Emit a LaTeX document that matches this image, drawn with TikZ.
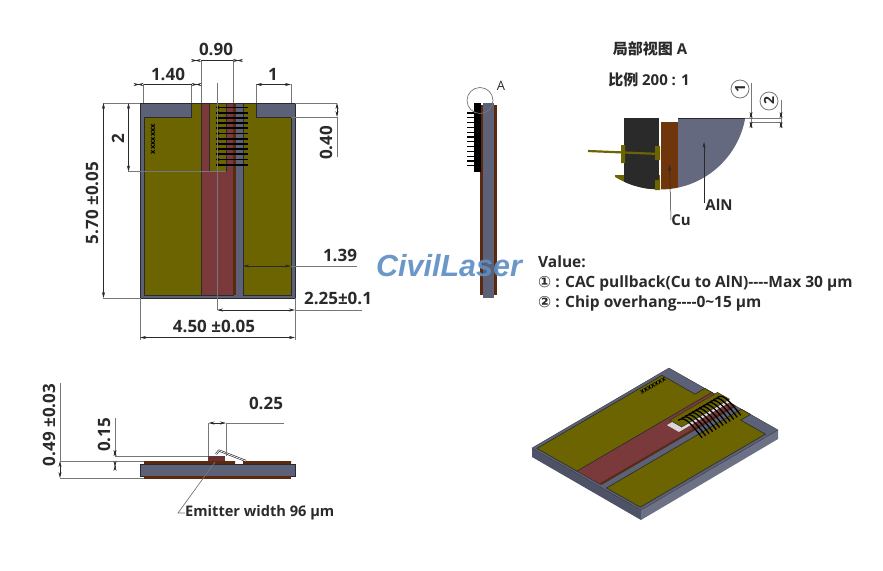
\documentclass[tikz,border=0pt]{standalone}
\usepackage{fontspec}
\setmainfont{Open Sans}
\newfontfamily\cjkfont{Noto Sans CJK SC}
\newfontfamily\symfont{DejaVu Sans}
\newfontfamily\markfont{Liberation Sans}
\usetikzlibrary{arrows.meta}
\definecolor{alngrey}{HTML}{5C6178}
\definecolor{padolive}{HTML}{6B6400}
\definecolor{cured}{HTML}{7A3A3C}
\definecolor{cubrown}{HTML}{5A2A10}
\definecolor{inkdark}{HTML}{2A2A2A}
\definecolor{extgrey}{HTML}{777777}
\newcommand{\isobox}[4]{(#1,#2) -- (#3,#2) -- (#3,#4) -- (#1,#4) -- cycle}
\tikzset{
  dimline/.style={draw=inkdark,line width=.5pt},
  extline/.style={draw=extgrey,line width=.6pt},
  tipboth/.style={{Stealth[length=6pt,width=3pt]}-{Stealth[length=6pt,width=3pt]}},
  tipin/.style={{Stealth[length=6pt,width=3pt,reversed]}-{Stealth[length=6pt,width=3pt,reversed]}},
  dimtext/.style={font=\fontsize{17}{17}\selectfont\bfseries,text=inkdark,inner sep=0pt},
  smalltext/.style={font=\fontsize{15}{15}\selectfont\bfseries,text=inkdark,inner sep=0pt},
  valtext/.style={font=\fontsize{15.5}{15}\selectfont\bfseries,text=inkdark,inner sep=0pt,anchor=west},
  wire/.style={draw=black,line width=1.7pt},
  callout/.style={circle,draw=extgrey,line width=.8pt,rotate=90,inner sep=0pt,minimum size=18pt,font=\fontsize{14}{14}\selectfont\bfseries,text=inkdark},
}
\begin{document}
\begin{tikzpicture}[x=1pt,y=-1pt]
\useasboundingbox (0,0) rectangle (883,570);
% front view
\fill[alngrey] (140,103) rectangle (295,298);
\draw[inkdark,line width=.6pt] (140,103) rectangle (295,298);
\fill[padolive,draw=inkdark,line width=.4pt] (144,117) -- (191,117) -- (191,103) -- (201,103) -- (201,295) -- (144,295) -- cycle;
\fill[padolive,draw=inkdark,line width=.4pt] (243,103) -- (256,103) -- (256,117) -- (291,117) -- (291,295) -- (243,295) -- cycle;
\fill[cured,draw=inkdark,line width=.4pt] (201,103) rectangle (233,295);
\fill[cubrown] (233,103) rectangle (235.5,295);
\fill[padolive,draw=inkdark,line width=.5pt] (209,103) rectangle (226,171.5);
\foreach \n in {0,...,11}{
  \draw[wire] (216,107.5+5.2*\n) -- (248,107.5+5.2*\n);
  \fill[black] (218,107.5+5.2*\n) circle (1.8);
}
\node[rotate=90,font=\fontsize{7.5}{7}\selectfont\bfseries,inner sep=0pt] (markfront) at (153,139) {xxxxxxx};
% dimensions of the front view
\draw[extline] (103,103) -- (140,103) (295,103) -- (337,103) (291,117) -- (337,117);
\draw[extline] (201,60) -- (201,103) (233,60) -- (233,103);
\draw[extline] (143.5,84) -- (143.5,103) (191.5,84) -- (191.5,103) (256,84) -- (256,103) (291,84) -- (291,103);
\draw[extline] (217,83) -- (217,310);
\draw[extline] (128,171.5) -- (226,171.5) (103,298) -- (140,298);
\draw[extline] (140,298) -- (140,340) (295,298) -- (295,340);
\draw[dimline,tipin] (191,60.5) -- (201,60.5);
\draw[dimline,tipin] (233,60.5) -- (243,60.5);
\draw[dimline] (201,60.5) -- (233,60.5);
\node[dimtext] (w090) at (216,49) {0.90};
\draw[dimline,tipin] (133.5,84.5) -- (143.5,84.5);
\draw[dimline,tipin] (191.5,84.5) -- (201.5,84.5);
\draw[dimline] (143.5,84.5) -- (191.5,84.5);
\node[dimtext] (w140) at (168,74) {1.40};
\draw[dimline,tipboth] (256,84.5) -- (291,84.5);
\node[dimtext] (w1) at (273,74) {1};
\draw[dimline,tipboth] (128.5,103) -- (128.5,171.5);
\node[dimtext,rotate=90] (h2) at (118,139) {2};
\draw[dimline,tipboth] (103.5,103) -- (103.5,298);
\node[dimtext,rotate=90] (h570) at (92,203) {5.70 ±0.05};
\draw[extline] (337,117) -- (337,157);
\draw[dimline,tipboth] (337,103) -- (337,117);
\node[dimtext,rotate=90] (h040) at (326,143) {0.40};
\draw[extline] (291,266) -- (357,266);
\draw[dimline,tipboth] (243,266) -- (291,266);
\node[dimtext] (w139) at (340,255) {1.39};
\draw[extline] (295,310) -- (362,310);
\draw[dimline,tipboth] (217,310) -- (295,310);
\node[dimtext] (w225) at (338,298) {2.25±0.1};
\draw[dimline,tipboth] (140,337.5) -- (295,337.5);
\node[dimtext] (w450) at (214,326) {4.50 ±0.05};
% side view
\fill[cubrown] (480,105) rectangle (497,295);
\fill[alngrey] (483,103) rectangle (494,298);
\fill[black] (474,103) rectangle (481,172);
\foreach \n in {0,...,11}{
  \draw[black,line width=1.3pt] (467,113+4.8*\n) -- (475,113+4.8*\n);
}
\draw[extgrey,line width=.7pt] (480,100.5) circle (13);
\node[font=\fontsize{13}{13}\selectfont,text=inkdark,inner sep=0pt] (viewa) at (501,86) {A};
% detail A
\node[smalltext] (detailtitle) at (650,49) {{\cjkfont\bfseries 局部视图} A};
\node[smalltext] (detailscale) at (649,80) {{\cjkfont\bfseries 比例} 200 : 1};
\begin{scope}
\clip (660,103) circle (86.5);
\fill[padolive] (615,175) rectangle (660,195);
\fill[inkdark] (624,118) rectangle (659,189);
\fill[cubrown!80!orange!90!black] (660.5,122) rectangle (678,195);
\fill[alngrey!95!white] (678,118) rectangle (750,195);
\draw[inkdark,line width=.8pt] (678,118.3) -- (750,118.3);
\end{scope}
\draw[padolive,line width=2.2pt] (588,151) -- (660,154);
\fill[padolive] (621,145) rectangle (625,163) (655,146) rectangle (660,160) (655,180) rectangle (660,190);
\draw[extline] (745,118) -- (781,118) (750,122) -- (781,122);
\draw[extline] (751,83) -- (751,128) (781,100) -- (781,128);
\draw[dimline,tipin] (751,112) -- (751,118);
\draw[dimline,tipin] (751,122) -- (751,128);
\draw[dimline,tipin] (781,112) -- (781,118);
\draw[dimline,tipin] (781,122) -- (781,128);
\node[callout] (callone) at (740,89) {1};
\node[callout] (calltwo) at (769,101) {2};
\node[smalltext] (aln) at (719,205) {AlN};
\node[smalltext] (cu) at (681,220) {Cu};
\coordinate (alntip) at (704,142);
\coordinate (cutip) at (669.5,165);
\draw[dimline,-{Stealth[length=6pt,width=3pt]}] (704,203) -- (alntip);
\draw[dimline,-{Stealth[length=6pt,width=3pt]}] (671,220) -- (cutip);
% value table
\node[valtext] (valhead) at (538,262) {Value:};
\node[valtext] (valone) at (538,283) {{\symfont ①} : CAC pullback(Cu to AlN)-{}-{}-{}-Max 30 µm};
\node[valtext] (valtwo) at (538,303) {{\symfont ②} : Chip overhang-{}-{}-{}-0\textasciitilde15 µm};
% end view
\fill[cubrown] (144,461) rectangle (235,464) (243,461) rectangle (291,464);
\fill[alngrey] (140,464) rectangle (295,476);
\draw[inkdark,line width=.3pt] (140,464) rectangle (295,476);
\fill[cubrown] (144,476) rectangle (291,478.5);
\fill[cured!85!black] (208,456) rectangle (225,461);
\draw[inkdark,line width=2pt,line join=round] (216,454) -- (219,450.5) -- (246,461);
\draw[white,line width=.7pt,line join=round] (216,454) -- (219,450.5) -- (246,461);
\draw[extline] (208.5,423) -- (208.5,456) (226,423) -- (226,456);
\draw[extline] (226,423) -- (284,423);
\draw[extline] (115,456) -- (208,456) (115,461) -- (144,461) (115,418) -- (115,456);
\draw[extline] (60,461) -- (144,461) (60,478) -- (144,478) (60,383) -- (60,461);
\draw[dimline,tipboth] (208.5,423) -- (226,423);
\node[dimtext] (w025) at (266,403) {0.25};
\draw[dimline,tipin] (115,450) -- (115,456);
\draw[dimline,tipin] (115,461) -- (115,471);
\node[dimtext,rotate=90] (h015) at (104,435) {0.15};
\draw[dimline,tipboth] (60,461) -- (60,478);
\node[dimtext,rotate=90] (h049) at (49,425) {0.49 ±0.03};
\node[smalltext,anchor=west,font=\fontsize{14.6}{14}\selectfont\bfseries] (emitter) at (185,513) {Emitter width 96 µm};
\coordinate (emittertip) at (215,462);
\draw[extline,line width=.7pt] (emittertip) -- (178,513) -- (emitter.west);
% perspective view
\fill[alngrey!85!black] (532,448) -- (641,510) -- (641,520) -- (532,457) -- cycle;
\fill[alngrey!90!white] (641,510) -- (778,430) -- (778,439) -- (641,520) -- cycle;
\begin{scope}[shift={(669,368)},x={(.7032pt,-.4pt)},y={(-.7026pt,-.4103pt)}]
\fill[alngrey,draw=inkdark,line width=.3pt] \isobox{0}{0}{155}{195};
\fill[padolive,draw=inkdark,line width=.6pt] (4,14) -- (51,14) -- (51,0) -- (61,0) -- (61,192) -- (4,192) -- cycle;
\fill[padolive,draw=inkdark,line width=.6pt] (103,0) -- (116,0) -- (116,14) -- (151,14) -- (151,192) -- (103,192) -- cycle;
\fill[cured,draw=inkdark,line width=.4pt] \isobox{61}{0}{93}{192};
\fill[cubrown] \isobox{93}{0}{95.5}{192};
\fill[white!85!black] \isobox{69}{0}{86}{72};
\begin{scope}[shift={(-4,-4)}]
\fill[padolive,draw=inkdark,line width=.4pt] \isobox{69}{0}{86}{68};
\foreach \n in {0,...,11}{
  \draw[black,line width=1.3pt] (75,7+5*\n) .. controls (74,-1+5*\n) and (81,-1+5*\n) .. (114,12+5*\n);
}
\end{scope}
\end{scope}
\node[rotate=29,font=\fontsize{7}{7}\selectfont\bfseries,inner sep=0pt] (markiso) at (653,386) {xxxxxxx};
% watermark
\node[font=\fontsize{30.5}{30}\selectfont\markfont\bfseries\itshape,text={rgb,255:red,95;green,143;blue,196},inner sep=0pt,opacity=.92] (civil) at (449,266) {CivilLaser};
\end{tikzpicture}
\end{document}
